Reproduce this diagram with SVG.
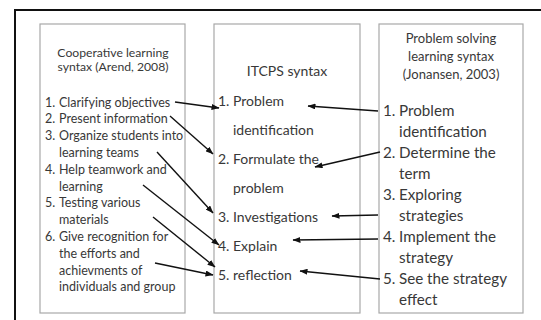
<svg xmlns="http://www.w3.org/2000/svg" width="541" height="320" viewBox="0 0 541 320">
<defs>
<style>
.box{fill:#fff;stroke:#a8a8a8;stroke-width:1.2}
.t{font-family:Lato,"Open Sans",sans-serif;fill:#383838}
.l{font-size:12.5px}
.lt{font-size:12.2px}
.m{font-size:14px}
.r{font-size:15.2px}
.rt{font-size:13px}
.c{text-anchor:middle}
.conn line{stroke:#111;stroke-width:1.4;marker-end:url(#ah)}
</style>
<marker id="ah" markerUnits="userSpaceOnUse" markerWidth="8" markerHeight="6" refX="7.5" refY="3" orient="auto">
<path d="M0,0 L8,3 L0,6 Z" fill="#111"/>
</marker>
</defs>
<rect width="541" height="320" fill="#fff"/>
<path d="M15,320 V10 H541" fill="none" stroke="#111" stroke-width="2"/>

<g id="cooperative">
<rect class="box" x="40" y="24" width="145" height="289"/>
<text class="t lt c" x="113" y="57">Cooperative learning</text>
<text class="t lt c" x="113" y="71">syntax (Arend, 2008)</text>
<text class="t l">
<tspan x="45" y="106.5">1.</tspan><tspan x="59" y="106.5">Clarifying objectives</tspan>
<tspan x="45" y="123.3">2.</tspan><tspan x="59" y="123.3">Present information</tspan>
<tspan x="45" y="140">3.</tspan><tspan x="59" y="140">Organize students into</tspan>
<tspan x="59" y="157">learning teams</tspan>
<tspan x="45" y="173.7">4.</tspan><tspan x="59" y="173.7">Help teamwork and</tspan>
<tspan x="59" y="190.5">learning</tspan>
<tspan x="45" y="207">5.</tspan><tspan x="59" y="207">Testing various</tspan>
<tspan x="59" y="224">materials</tspan>
<tspan x="45" y="241">6.</tspan><tspan x="59" y="241">Give recognition for</tspan>
<tspan x="59" y="257.7">the efforts and</tspan>
<tspan x="59" y="274.5">achievments of</tspan>
<tspan x="59" y="291">individuals and group</tspan>
</text>
</g>

<g id="itcps">
<rect class="box" x="214" y="24" width="146" height="289"/>
<text class="t m c" x="287" y="76">ITCPS syntax</text>
<text class="t m">
<tspan x="218" y="106">1.</tspan><tspan x="233" y="106">Problem</tspan>
<tspan x="233" y="135">identification</tspan>
<tspan x="218" y="164">2.</tspan><tspan x="233" y="164">Formulate the</tspan>
<tspan x="233" y="193">problem</tspan>
<tspan x="218" y="222">3.</tspan><tspan x="233" y="222">Investigations</tspan>
<tspan x="218" y="251">4.</tspan><tspan x="233" y="251">Explain</tspan>
<tspan x="218" y="280">5.</tspan><tspan x="233" y="280">reflection</tspan>
</text>
</g>

<g id="problem-solving">
<rect class="box" x="379" y="24" width="144" height="289"/>
<text class="t rt c" x="451" y="43">Problem solving</text>
<text class="t rt c" x="451" y="61">learning syntax</text>
<text class="t rt c" x="451" y="79">(Jonansen, 2003)</text>
<text class="t r">
<tspan x="383" y="116">1.</tspan><tspan x="399" y="116">Problem</tspan>
<tspan x="399" y="137">identification</tspan>
<tspan x="383" y="158">2.</tspan><tspan x="399" y="158">Determine the</tspan>
<tspan x="399" y="179">term</tspan>
<tspan x="383" y="200">3.</tspan><tspan x="399" y="200">Exploring</tspan>
<tspan x="399" y="221">strategies</tspan>
<tspan x="383" y="242">4.</tspan><tspan x="399" y="242">Implement the</tspan>
<tspan x="399" y="263">strategy</tspan>
<tspan x="383" y="284">5.</tspan><tspan x="399" y="284">See the strategy</tspan>
<tspan x="399" y="305">effect</tspan>
</text>
</g>

<g id="connectors" class="conn">
<line x1="175" y1="102" x2="219" y2="108"/>
<line x1="170" y1="116" x2="213" y2="154"/>
<line x1="157" y1="152" x2="213" y2="213"/>
<line x1="143" y1="185" x2="219" y2="245"/>
<line x1="153" y1="217" x2="215" y2="267"/>
<line x1="155" y1="263" x2="213" y2="275"/>
<line x1="378" y1="111" x2="308" y2="106"/>
<line x1="380" y1="152" x2="315" y2="167"/>
<line x1="378" y1="215" x2="332" y2="216"/>
<line x1="378" y1="239" x2="293" y2="240"/>
<line x1="380" y1="279" x2="300" y2="271"/>
</g>
</svg>
